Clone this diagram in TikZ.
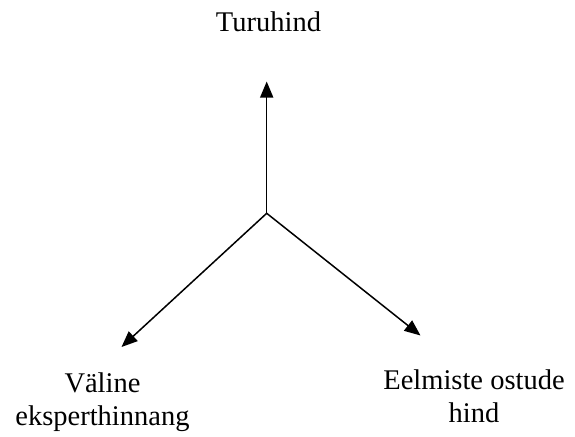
\documentclass[tikz,border=0pt]{standalone}
\usepackage{fontspec}
\setmainfont{Liberation Serif}
\usetikzlibrary{arrows.meta}

\tikzset{
  lbl/.style={align=center, inner sep=0pt, anchor=base, font=\fontsize{28.5}{33}\selectfont},
  arr/.style={line width=1.5pt, -{Triangle[length=16pt,width=13pt]}}
}

\begin{document}
\begin{tikzpicture}[x=1pt,y=-1pt]
    \useasboundingbox (0,0) rectangle (575,436);
    \coordinate (c) at (266.7,213.3);
    \coordinate (top) at (266.7,81.5);
    \coordinate (left) at (121.5,347);
    \coordinate (right) at (420.5,335.5);
    \draw [arr] (c) -- (top);
    \draw [arr] (c) -- (left);
    \draw [arr] (c) -- (right);
    % base anchor sits on the last line of a two-line label
    \node [lbl] (turu) at (268.5,31.7) {Turuhind};
    \node [lbl] (valine) at (102.5,425) {Väline\\eksperthinnang};
    \node [lbl] (eelm) at (474,422) {Eelmiste ostude\\hind};
  \end{tikzpicture}
\end{document}
